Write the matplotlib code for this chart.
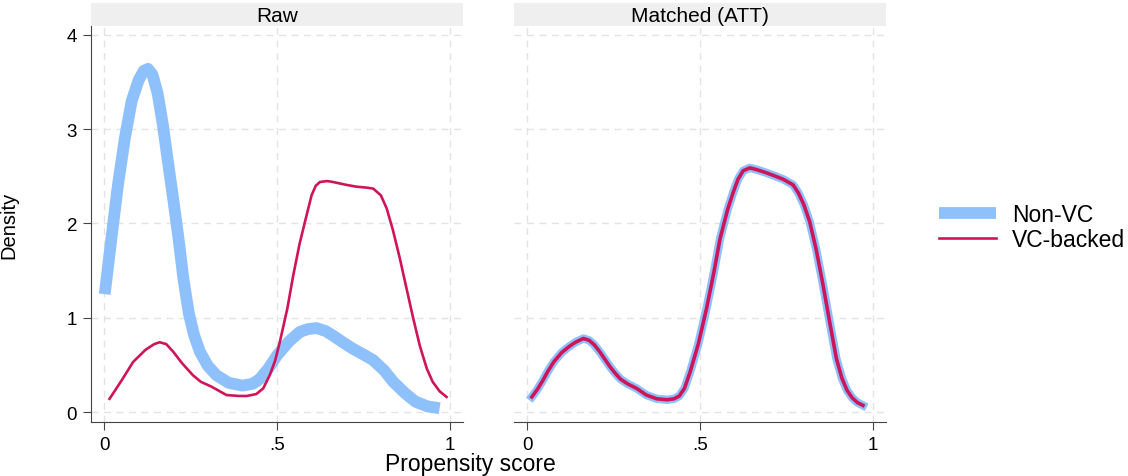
import matplotlib.pyplot as plt
import numpy as np

plt.rcParams['font.family'] = ['Liberation Sans', 'DejaVu Sans']

# Raw panel
raw_nonvc_x = [0.002, 0.02, 0.04, 0.06, 0.08, 0.10, 0.115, 0.127, 0.14, 0.155, 0.17, 0.185, 0.2, 0.215,
               0.23, 0.245, 0.26, 0.277, 0.3, 0.325, 0.36, 0.4, 0.43, 0.45, 0.475, 0.5, 0.535, 0.566,
               0.59, 0.614, 0.64, 0.662, 0.69, 0.72, 0.75, 0.778, 0.81, 0.836, 0.87, 0.9, 0.935, 0.97]
raw_nonvc_y = [1.25, 1.8, 2.4, 2.9, 3.3, 3.52, 3.62, 3.64, 3.58, 3.38, 3.05, 2.65, 2.26, 1.85,
               1.4, 1.05, 0.82, 0.64, 0.49, 0.39, 0.31, 0.28, 0.3, 0.35, 0.46, 0.6, 0.75, 0.85,
               0.88, 0.89, 0.86, 0.81, 0.74, 0.67, 0.61, 0.55, 0.44, 0.32, 0.2, 0.11, 0.06, 0.04]

raw_vc_x = [0.016, 0.05, 0.084, 0.12, 0.145, 0.161, 0.18, 0.2, 0.225, 0.257, 0.28, 0.31, 0.354, 0.39,
            0.412, 0.44, 0.46, 0.479, 0.495, 0.508, 0.53, 0.547, 0.565, 0.585, 0.6, 0.612, 0.624, 0.645,
            0.662, 0.7, 0.73, 0.76, 0.778, 0.8, 0.817, 0.835, 0.855, 0.875, 0.894, 0.913, 0.933, 0.95,
            0.97, 0.99]
raw_vc_y = [0.14, 0.33, 0.53, 0.66, 0.72, 0.74, 0.72, 0.64, 0.52, 0.39, 0.32, 0.27, 0.18, 0.17,
            0.17, 0.19, 0.25, 0.39, 0.55, 0.74, 1.1, 1.45, 1.78, 2.08, 2.3, 2.4, 2.44, 2.45,
            2.44, 2.41, 2.39, 2.38, 2.37, 2.3, 2.16, 1.93, 1.63, 1.3, 0.99, 0.7, 0.46, 0.32,
            0.22, 0.16]

# Matched panel (both groups nearly identical)
m_x = [0.014, 0.03, 0.045, 0.06, 0.077, 0.1, 0.12, 0.14, 0.163, 0.18, 0.195, 0.21, 0.225, 0.24,
       0.255, 0.27, 0.29, 0.317, 0.345, 0.375, 0.405, 0.425, 0.44, 0.455, 0.471, 0.495, 0.519, 0.54,
       0.558, 0.58, 0.596, 0.61, 0.625, 0.644, 0.665, 0.69, 0.712, 0.74, 0.769, 0.785, 0.8, 0.817,
       0.836, 0.856, 0.875, 0.894, 0.91, 0.925, 0.94, 0.955, 0.971]
m_y = [0.16, 0.24, 0.33, 0.43, 0.53, 0.63, 0.69, 0.74, 0.78, 0.76, 0.71, 0.64, 0.56, 0.48,
       0.41, 0.35, 0.3, 0.25, 0.18, 0.14, 0.13, 0.14, 0.17, 0.25, 0.42, 0.72, 1.1, 1.48,
       1.84, 2.15, 2.33, 2.47, 2.56, 2.59, 2.57, 2.54, 2.51, 2.47, 2.41, 2.32, 2.2, 2.02,
       1.72, 1.34, 0.95, 0.57, 0.36, 0.23, 0.15, 0.1, 0.07]

blue = '#8ec1fb'
red = '#d0145a'
grid_c = '#e3e3e3'

fig = plt.figure(figsize=(11.28, 4.77), dpi=100)
ax1 = fig.add_axes([91/1128, 1-423/477, 372/1128, 396/477])
ax2 = fig.add_axes([514/1128, 1-423/477, 372/1128, 396/477])

for ax, title in [(ax1, 'Raw'), (ax2, 'Matched (ATT)')]:
    ax.set_xlim(-0.0376, 1.0376)
    ax.set_ylim(-0.106, 4.095)
    ax.set_xticks([0, 0.5, 1])
    ax.set_xticklabels(['0', '.5', '1'])
    ax.set_yticks([0, 1, 2, 3, 4])
    ax.grid(True, color=grid_c, linestyle=(0, (5, 4)), linewidth=1)
    ax.set_axisbelow(True)
    for s in ['top', 'right']:
        ax.spines[s].set_visible(False)
    ax.spines['bottom'].set_color('#444444')
    ax.spines['left'].set_color('#444444')
    ax.tick_params(labelsize=13.5, length=6, color='#444444', labelcolor='black', pad=4)
    # strip header
    ax.text(0.5, 1.002, title, transform=ax.transAxes, ha='center', va='bottom', fontsize=15)
    strip = plt.Rectangle((0, 1.0), 1, 23/396, transform=ax.transAxes, clip_on=False,
                          facecolor='#efefef', edgecolor='none', zorder=0)
    ax.add_patch(strip)

ax2.spines['left'].set_visible(False)
ax2.tick_params(axis='y', left=False, labelleft=False)

ax1.plot(raw_nonvc_x, raw_nonvc_y, color=blue, lw=8.5, solid_capstyle='butt', solid_joinstyle='round', label='Non-VC')
ax1.plot(raw_vc_x, raw_vc_y, color=red, lw=1.9, solid_joinstyle='round', label='VC-backed')

ax2.plot(m_x, m_y, color=blue, lw=6, solid_joinstyle='round')
ax2.plot(m_x, m_y, color=red, lw=2.6, solid_joinstyle='round')

ax1.set_ylabel('Density', fontsize=14.5)
ax1.yaxis.set_label_coords(-(91-18)/372, 0.5)
fig.text(470/1128, 1-465/477, 'Propensity score', ha='center', va='center', fontsize=16.5)

h, l = ax1.get_legend_handles_labels()
fig.legend(h, l, loc='center left', bbox_to_anchor=(918/1128, 1-228/477), frameon=False,
           fontsize=16.5, handlelength=2.5, handletextpad=0.7, labelspacing=0.05)

fig.savefig('out.png', dpi=100)
